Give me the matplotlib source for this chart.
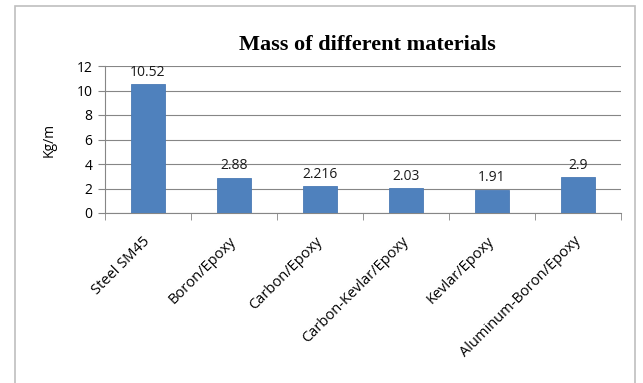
import numpy as np
import matplotlib.pyplot as plt
from matplotlib.patches import Rectangle

materials = ["Steel SM45", "Boron/Epoxy", "Carbon/Epoxy", "Carbon-Kevlar/Epoxy",
             "Kevlar/Epoxy", "Aluminum-Boron/Epoxy"]
mass = [10.52, 2.88, 2.216, 2.03, 1.91, 2.9]
mass_labels = ["10.52", "2.88", "2.216", "2.03", "1.91", "2.9"]
yticks = [0, 2, 4, 6, 8, 10, 12]

W, H = 643, 383
fig = plt.figure(figsize=(W / 100, H / 100), dpi=100)
fig.patch.set_facecolor("white")

# chart frame (bottom edge falls outside the image)
fig.add_artist(Rectangle((15 / W, -0.05), (635 - 15) / W, 1.05 - 6 / H,
                         transform=fig.transFigure, fill=False,
                         edgecolor="#bfbfbf", linewidth=1.2))

ax = fig.add_axes([105 / W, 1 - 213 / H, (621 - 105) / W, (213 - 66) / H])

x = np.arange(len(materials))
ax.bar(x, mass, width=0.4, color="#4f81bd", edgecolor="#4a7ab5", linewidth=0.6, zorder=3)

for xi, v, s in zip(x, mass, mass_labels):
    ax.text(xi, v + 0.35, s, ha="center", va="bottom", fontsize=10,
            family="Open Sans", color="#1a1a1a", zorder=4)

ax.set_xlim(-0.5, len(materials) - 0.5)
ax.set_ylim(0, 12)
ax.set_yticks(yticks)
ax.set_yticklabels([str(t) for t in yticks], fontsize=10, family="Open Sans")
ax.yaxis.grid(True, color="#868686", linewidth=0.8, zorder=0)

# category labels at bar centres, tick marks at category boundaries
ax.set_xticks(x - 0.06)
ax.set_xticklabels(materials, rotation=45, ha="right", rotation_mode="anchor",
                   fontsize=10.5, family="Open Sans")
ax.tick_params(axis="x", length=0, pad=15)
ax.set_xticks(np.arange(len(materials) + 1) - 0.5, minor=True)
ax.tick_params(axis="x", which="minor", length=5, color="#868686", direction="out")
ax.tick_params(axis="y", length=5, color="#868686", pad=4)

for side in ["top", "right"]:
    ax.spines[side].set_visible(False)
for side in ["left", "bottom"]:
    ax.spines[side].set_color("#868686")

ax.set_ylabel("Kg/m", fontsize=10, family="Open Sans", labelpad=14)

fig.text(367 / W, 1 - 45 / H, "Mass of different materials", ha="center", va="center",
         fontsize=16, fontweight="bold", family="Liberation Serif")

fig.savefig("out.png", dpi=100)
